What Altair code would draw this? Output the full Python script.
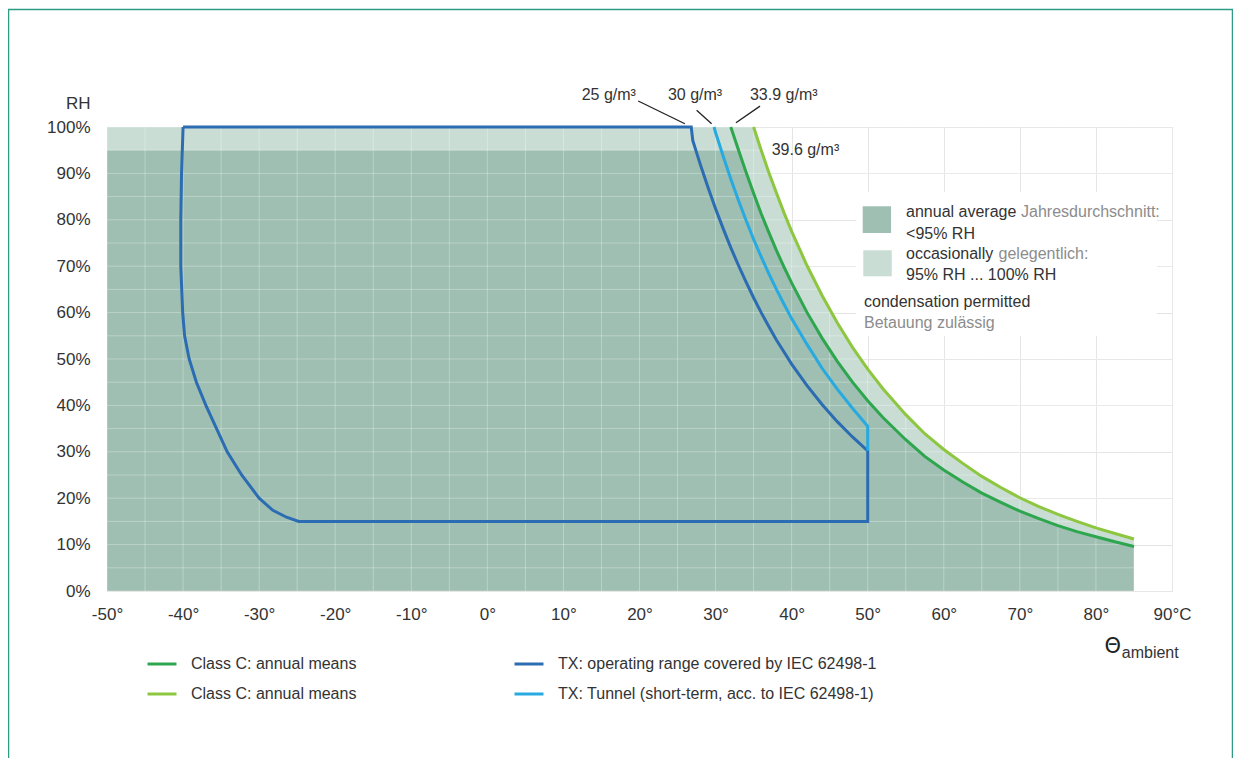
import altair as alt
import pandas as pd

FONT = "Liberation Sans, Arial, sans-serif"
TXT = "#333333"
GRAY_TXT = "#8c8c8c"
FILL_DARK = "#9ebfb1"
FILL_LIGHT = "#c9ddd4"

# ---- data ----
# Class C 33.9 g/m3 (dark green)
dg_T = [32.0, 33, 34, 35, 36, 37, 38, 39, 40, 42, 44, 46, 48, 50, 52, 55, 57.5, 60, 62.5, 65, 67.5, 70, 72.5, 75, 77.5, 80, 82.5, 85]
dg_RH = [100, 95.1, 90.3, 85.7, 81.3, 77.3, 73.4, 69.8, 66.4, 60.1, 54.5, 49.5, 45.0, 41.0, 37.4, 32.6, 29.0, 26.1, 23.5, 21.1, 19.1, 17.2, 15.6, 14.1, 12.8, 11.7, 10.6, 9.6]
# Class C 39.6 g/m3 (light green)
lg_T = [35.0, 36, 37, 38, 39, 40, 42, 44, 46, 48, 50, 52, 55, 57.5, 60, 62.5, 65, 67.5, 70, 72.5, 75, 77.5, 80, 82.5, 85]
lg_RH = [100, 95.0, 90.2, 85.8, 81.5, 77.5, 70.2, 63.7, 57.8, 52.5, 47.8, 43.6, 38.0, 33.9, 30.5, 27.5, 24.7, 22.3, 20.1, 18.2, 16.5, 15.0, 13.6, 12.4, 11.2]
# TX tunnel 30 g/m3 (light blue)
lb_T = [29.8, 30, 31, 32, 33, 34, 35, 36, 37, 38, 39, 40, 42, 44, 46, 48, 50, 50]
lb_RH = [100, 98.8, 93.7, 88.8, 84.2, 79.9, 75.8, 72.0, 68.4, 65.0, 61.8, 58.7, 53.2, 48.0, 43.5, 39.4, 35.5, 30.2]
# TX operating range (dark blue, closed outline)
db_T = [-40.0, 26.8, 27, 28, 29, 30, 31, 32, 33, 34, 35, 36, 37, 38, 39, 40, 42, 44, 46, 48, 50, 50,
        -24.8, -26.4, -28.2, -30.0, -32.3, -34.2, -35.6, -37.0, -38.25, -39.2, -39.8, -40.05, -40.3, -40.3, -40.2, -40.0]
db_RH = [100, 100, 97.1, 91.9, 87.0, 82.4, 78.1, 74.0, 70.2, 66.6, 63.2, 60.0, 57.0, 54.1, 51.5, 48.9, 44.3, 40.2, 36.5, 33.2, 30.2, 15,
         15, 15.9, 17.4, 20, 25, 30, 35, 40, 45, 50, 55, 60, 70, 80, 90, 100]

# legend order (column-major: left column greens, right column blues)
series_names = ["Class C: annual means",
                "Class C: annual means ",
                "TX: operating range covered by IEC 62498-1",
                "TX: Tunnel (short-term, acc. to IEC 62498-1)"]
series_colors = ["#2ea64e", "#8dc63f", "#2b6cb2", "#27a9e1"]

x_ticks = list(range(-50, 91, 5))
y_ticks = list(range(0, 101, 5))

# ---- tables ----
rows = []
for name, T, RH in [(series_names[0], dg_T, dg_RH), (series_names[2], db_T, db_RH),
                    (series_names[1], lg_T, lg_RH), (series_names[3], lb_T, lb_RH)]:
    for i, (t, r) in enumerate(zip(T, RH)):
        rows.append({"series": name, "T": t, "RH": r, "idx": i})
lines_df = pd.DataFrame(rows)

light_df = pd.DataFrame({"T": [-50] + lg_T, "RH": [100] + lg_RH})
dark_df = pd.DataFrame({"T": [-50] + dg_T[1:], "RH": [95] + [min(r, 95) for r in dg_RH[1:]]})
gx_df = pd.DataFrame({"T": x_ticks})
gy_df = pd.DataFrame({"RH": y_ticks})

xs = alt.Scale(domain=[-50, 90], nice=False, zero=False)
ys = alt.Scale(domain=[0, 100], nice=False, zero=False)

x_axis = alt.Axis(values=x_ticks, title=None, grid=True, gridColor="#e3e3e3", ticks=False, domain=False,
                  labelExpr="datum.value % 10 != 0 ? '' : (datum.value == 90 ? '90°C' : datum.value + '°')",
                  labelFont=FONT, labelFontSize=17, labelColor=TXT, labelPadding=15, labelFlush=False)
y_axis = alt.Axis(values=y_ticks, title="RH", grid=True, gridColor="#e3e3e3", ticks=False, domain=False,
                  labelExpr="datum.value % 10 == 0 ? datum.value + '%' : ''",
                  labelFont=FONT, labelFontSize=17, labelColor=TXT, labelPadding=17,
                  titleAngle=0, titleAlign="right", titleBaseline="alphabetic", titleX=-17, titleY=-19,
                  titleFont=FONT, titleFontSize=17, titleFontWeight="normal", titleColor=TXT)

light = alt.Chart(light_df).mark_area(color=FILL_LIGHT).encode(
    x=alt.X("T:Q", scale=xs, axis=x_axis), y=alt.Y("RH:Q", scale=ys, axis=y_axis))
dark = alt.Chart(dark_df).mark_area(color=FILL_DARK).encode(
    x=alt.X("T:Q", scale=xs), y=alt.Y("RH:Q", scale=ys))
gx = alt.Chart(gx_df).mark_rule(color="white", opacity=0.3, strokeWidth=1).encode(x=alt.X("T:Q", scale=xs))
gy = alt.Chart(gy_df).mark_rule(color="white", opacity=0.3, strokeWidth=1).encode(y=alt.Y("RH:Q", scale=ys))

# white panel behind the legend text
panel = alt.Chart(pd.DataFrame({"x": [48.5], "x2": [88], "y": [55], "y2": [86]})).mark_rect(color="white").encode(
    x=alt.X("x:Q", scale=xs), x2="x2", y=alt.Y("y:Q", scale=ys), y2="y2")

boxes = alt.Chart(pd.DataFrame({"x": [49.34, 49.42], "x2": [53.07, 53.16], "y": [77.16, 67.82], "y2": [82.91, 73.43],
                                "c": [FILL_DARK, FILL_LIGHT]})).mark_rect().encode(
    x=alt.X("x:Q", scale=xs), x2="x2", y=alt.Y("y:Q", scale=ys), y2="y2", color=alt.Color("c:N", scale=None))

lines = alt.Chart(lines_df).mark_line(strokeWidth=3).encode(
    x=alt.X("T:Q", scale=xs), y=alt.Y("RH:Q", scale=ys), order="idx:Q",
    color=alt.Color("series:N", scale=alt.Scale(domain=series_names, range=series_colors),
                    legend=alt.Legend(title=None, orient="none", legendX=39, legendY=521, columns=2,
                                      symbolType="stroke", symbolSize=841, symbolStrokeWidth=3,
                                      labelFont=FONT, labelFontSize=16, labelColor=TXT, labelOffset=13,
                                      columnPadding=151, rowPadding=6, labelLimit=500,
                                      labelExpr="trim(datum.label)")))

leaders = alt.Chart(pd.DataFrame({"x": [19.83, 27.51, 35.84], "y": [105.6, 103.6, 104.5],
                                  "x2": [25.97, 29.48, 32.68], "y2": [100.7, 100.7, 100.9]})).mark_rule(
    color="#222", strokeWidth=1.3).encode(x=alt.X("x:Q", scale=xs), x2="x2", y=alt.Y("y:Q", scale=ys), y2="y2")

ann_dark = pd.DataFrame({
    "x": [12.4, 23.74, 34.52, 37.37, 55.04, 55.04, 55.04, 55.04, 49.51],
    "y": [105.9, 105.9, 105.9, 93.9, 80.6, 75.95, 71.49, 67.11, 61.21],
    "t": ["25 g/m³", "30 g/m³", "33.9 g/m³", "39.6 g/m³", "annual average", "<95% RH", "occasionally",
          "95% RH ... 100% RH", "condensation permitted"]})
ann_gray = pd.DataFrame({"x": [70.16, 67.2, 49.51], "y": [80.6, 71.49, 56.72],
                         "t": ["Jahresdurchschnitt:", "gelegentlich:", "Betauung zulässig"]})
t_dark = alt.Chart(ann_dark).mark_text(align="left", baseline="alphabetic", font=FONT, fontSize=16, color=TXT).encode(
    x=alt.X("x:Q", scale=xs), y=alt.Y("y:Q", scale=ys), text="t:N")
t_gray = alt.Chart(ann_gray).mark_text(align="left", baseline="alphabetic", font=FONT, fontSize=16, color=GRAY_TXT).encode(
    x=alt.X("x:Q", scale=xs), y=alt.Y("y:Q", scale=ys), text="t:N")

theta = alt.Chart(pd.DataFrame({"x": [82.2], "y": [-13.4], "t": ["Θ"]})).mark_text(
    align="center", baseline="alphabetic", font="DejaVu Sans", fontSize=21, color="#222").encode(
    x=alt.X("x:Q", scale=xs), y=alt.Y("y:Q", scale=ys), text="t:N")
amb = alt.Chart(pd.DataFrame({"x": [83.4], "y": [-14.35], "t": ["ambient"]})).mark_text(
    align="left", baseline="alphabetic", font=FONT, fontSize=16, color=TXT).encode(
    x=alt.X("x:Q", scale=xs), y=alt.Y("y:Q", scale=ys), text="t:N")

frame = alt.Chart(pd.DataFrame({"a": [0]})).mark_rect(filled=False, stroke="#2e9c84", strokeWidth=1.5).encode(
    x=alt.value(-98.5), x2=alt.value(1125.5), y=alt.value(-117.5), y2=alt.value(700))

chart = alt.layer(light, dark, gx, gy, panel, boxes, lines, leaders, t_dark, t_gray, theta, amb, frame).properties(
    width=1065, height=464,
    autosize=alt.AutoSizeParams(type="none"),
    padding={"left": 99, "top": 119, "right": 61, "bottom": 167},
).configure_view(stroke=None).configure(background="white")

chart.save("out.html", embed_options={"renderer": "svg", "actions": False})
